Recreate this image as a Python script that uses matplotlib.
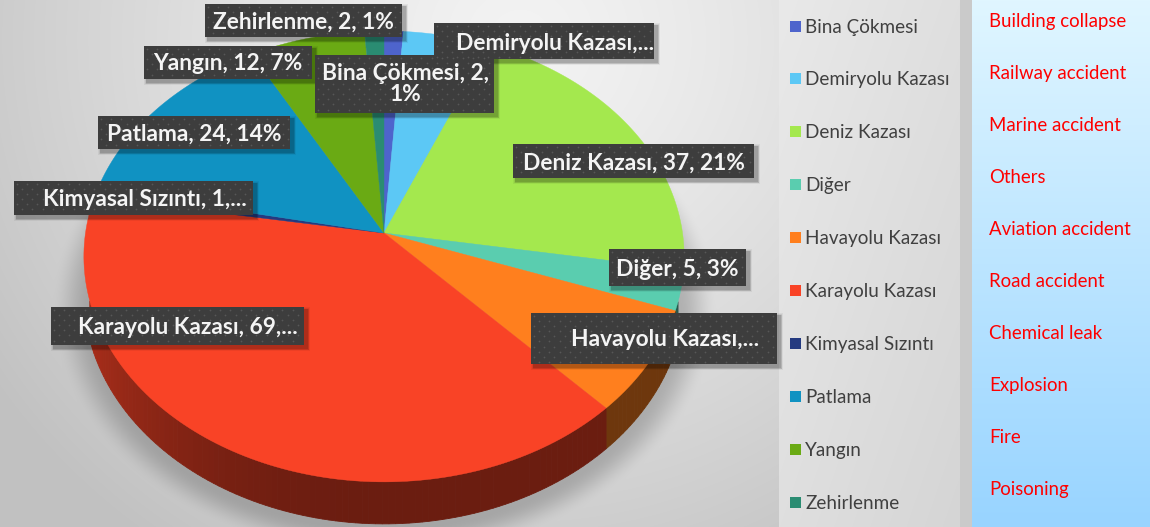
import numpy as np
import matplotlib
matplotlib.use("Agg")
import matplotlib.pyplot as plt
from matplotlib.patches import Rectangle
from matplotlib.colors import to_rgb

categories = ["Bina Çökmesi", "Demiryolu Kazası", "Deniz Kazası", "Diğer", "Havayolu Kazası",
              "Karayolu Kazası", "Kimyasal Sızıntı", "Patlama", "Yangın", "Zehirlenme"]
values = [2, 9, 37, 5, 13, 69, 1, 24, 12, 2]
english = ["Building collapse", "Railway accident", "Marine accident", "Others", "Aviation accident",
           "Road accident", "Chemical leak", "Explosion", "Fire", "Poisoning"]
colors = ["#4E64CC", "#5CC8F5", "#A4E84E", "#5ACDAF", "#FF7F1E",
          "#F94326", "#243A80", "#1092C2", "#6AAA14", "#2A8C72"]
data_labels = ["Bina Çökmesi, 2,\n1%", "Demiryolu Kazası,...", "Deniz Kazası, 37, 21%", "Diğer, 5, 3%",
               "Havayolu Kazası,...", "Karayolu Kazası, 69,...", "Kimyasal Sızıntı, 1,...",
               "Patlama, 24, 14%", "Yangın, 12, 7%", "Zehirlenme, 2, 1%"]

# label boxes (x0, y0, x1, y1) and text centres in image pixels
boxes = [(315, 55, 494, 113), (434, 23, 654, 59), (513, 144, 754, 178), (609, 249, 746, 286),
         (531, 313, 777, 364), (51, 307, 304, 345), (14, 181, 253, 215), (98, 116, 290, 149),
         (144, 46, 312, 79), (205, 4, 402, 37)]
text_centres = [(405, 84), (555, 43), (634, 163), (677, 269), (665, 340),
                (188, 328), (145, 199), (194, 134), (228, 64), (303, 22)]
W, H = 1150, 527

fig = plt.figure(figsize=(W / 100, H / 100), dpi=100)
ax = fig.add_axes([0, 0, 1, 1])
ax.set_xlim(0, W)
ax.set_ylim(H, 0)
ax.axis("off")

# background
yy, xx = np.mgrid[0:H, 0:W]
d = np.sqrt(((xx - 520) / 640.0) ** 2 + ((yy - 40) / 620.0) ** 2)
bg = 243 - 50 * np.clip(d, 0, 1) ** 1.3
rgb = np.dstack([bg, bg, bg])

# pie shadow
cx, apex = 384.0, 233.0
dd = np.sqrt(((xx - cx) / 303.0) ** 2 + ((yy - 306.0) / 228.0) ** 2)
t = np.clip((1.10 - dd) / 0.13, 0, 1)
sh = 0.30 * t * t * (3 - 2 * t)
rgb = rgb * (1 - sh[..., None]) + 70 * sh[..., None]

# legend panel
m = (xx >= 779) & (xx < 960)
panel = 233 - 20 * ((xx - 779) / 181.0 * 0.5 + yy / 527.0 * 0.5)
for c in range(3):
    rgb[..., c][m] = panel[m]
# divider
m = (xx >= 960) & (xx < 972)
rgb[m] = (202, 202, 202)
# blue panel
m = (xx >= 972)
f = yy / 527.0
top = np.array([224, 246, 255.0])
bot = np.array([152, 212, 255.0])
for c in range(3):
    rgb[..., c][m] = (top[c] + (bot[c] - top[c]) * f)[m]
ax.imshow(rgb.astype(np.uint8), extent=(0, W, H, 0), aspect="auto", zorder=0, interpolation="bilinear")
ax.set_xlim(0, W)
ax.set_ylim(H, 0)

# pie in perspective
R, R2, k, depth = 298.5, 223.0, 0.104, 42.0


def project(theta, drop=0.0):
    u, v = np.sin(theta), np.cos(theta)
    s = 1 / (1 + k * v)
    return cx + R * u * s, apex - R2 * v * s + drop * s / 1.116


total = float(sum(values))
edges = np.concatenate([[0], np.cumsum(values)]) / total * 2 * np.pi

for i, col in enumerate(colors):
    base = np.array(to_rgb(col))
    n = max(2, int((edges[i + 1] - edges[i]) / 0.02))
    th = np.linspace(edges[i], edges[i + 1], n + 1)
    for a, b in zip(th[:-1], th[1:]):
        mid = 0.5 * (a + b)
        if np.cos(mid) > -0.3:
            continue
        u = np.sin(mid)
        fac = 0.43 + 0.27 * max(0.0, -u) ** 2.2
        c = tuple(base * fac)
        x0, y0 = project(a)
        x1, y1 = project(b)
        x2, y2 = project(b, depth)
        x3, y3 = project(a, depth)
        ax.fill([x0, x1, x2, x3], [y0, y1, y2, y3], color=c, lw=0.6, zorder=2)

for i, col in enumerate(colors):
    th = np.linspace(edges[i], edges[i + 1], 120)
    x, y = project(th)
    ax.fill(np.r_[cx, x], np.r_[apex, y], color=col, lw=0.3, zorder=3)


# data labels
def label_box(x0, y0, x1, y1):
    for g, a in zip((6, 4.5, 3, 1.5), (0.05, 0.07, 0.09, 0.12)):
        ax.add_patch(Rectangle((x0 + 3 - g / 2, y0 + 3 - g / 2), x1 - x0 + g, y1 - y0 + g,
                               fc="black", ec="none", alpha=a, zorder=5))
    ax.add_patch(Rectangle((x0, y0), x1 - x0, y1 - y0, fc="#3D3D3D", ec="none", zorder=6))
    gx, gy = np.meshgrid(np.arange(x0 + 2.5, x1 - 1, 5.2), np.arange(y0 + 2.5, y1 - 1, 5.2))
    ax.scatter(gx[::2, ::2].ravel(), gy[::2, ::2].ravel(), s=1.6, c="#575757", lw=0, zorder=7)
    ax.scatter(gx[1::2, 1::2].ravel(), gy[1::2, 1::2].ravel(), s=1.6, c="#575757", lw=0, zorder=7)


for lab, b, tc in zip(data_labels, boxes, text_centres):
    label_box(*b)
    ax.text(tc[0], tc[1], lab, family="Lato", weight="bold", fontsize=16.4, color="#F4F4F4",
            ha="center", va="center", zorder=8, linespacing=1.05)

# legend
leg_y = 27 + 52.9 * np.arange(len(categories))
for cat, col, y in zip(categories, colors, leg_y):
    ax.add_patch(Rectangle((790, y - 6.5), 11, 11, fc=col, ec="none", zorder=4))
    ax.text(805, y, cat, family="Lato", fontsize=13.6, color="#404040", ha="left", va="center", zorder=4)

# translations
eng_y = 22 + 51.9 * np.arange(len(english))
for lab, y in zip(english, eng_y):
    ax.text(989, y, lab, family="Lato", fontsize=13.4, color="#FF0000", ha="left", va="center", zorder=4)

fig.savefig("out.png", dpi=100)
